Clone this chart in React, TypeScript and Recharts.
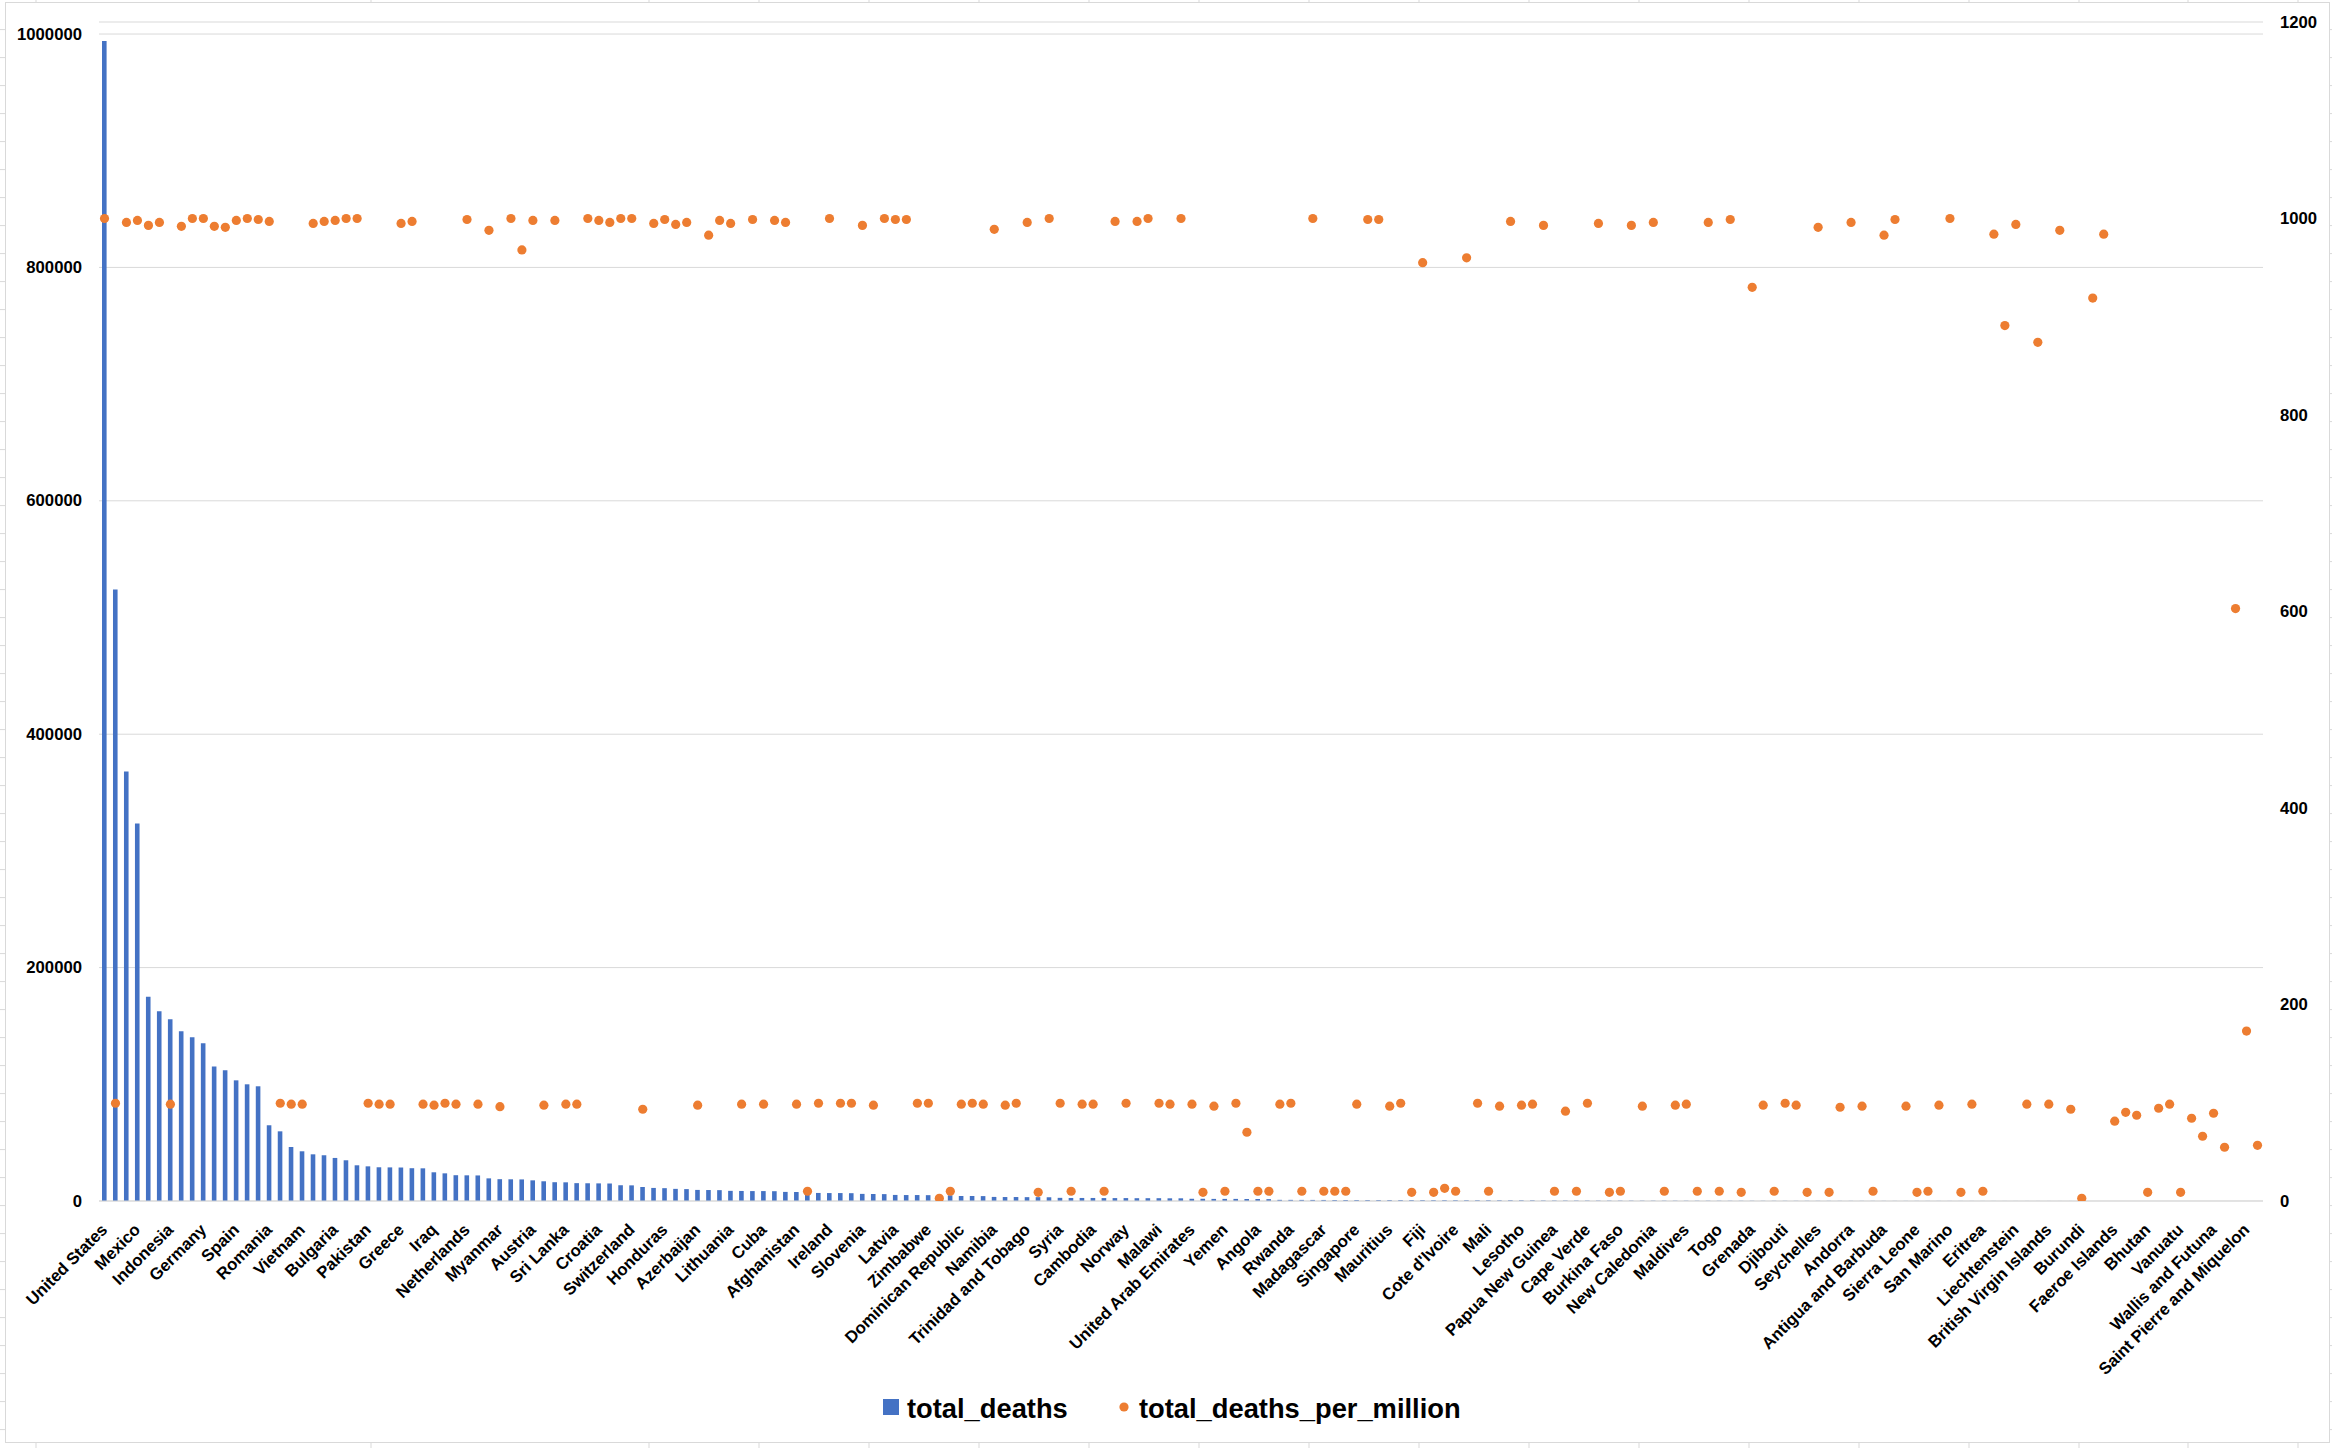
import React from 'react';
import { ComposedChart, Bar, Line, XAxis, YAxis, CartesianGrid } from 'recharts';

const countries: string[] = [
  'United States','India','Russia','Mexico','United Kingdom','Italy','Indonesia','France','Iran','Germany',
  'Poland','Ukraine','Spain','South Africa','Turkey','Romania','Philippines','Hungary','Vietnam','Czechia',
  'Canada','Bulgaria','Malaysia','Belgium','Pakistan','Thailand','Bangladesh','Greece','Japan','Tunisia',
  'Iraq','Egypt','South Korea','Netherlands','Portugal','Slovakia','Myanmar','Serbia','Sweden','Austria',
  'Nepal','Georgia','Sri Lanka','Morocco','Bosnia and Herzegovina','Croatia','Kazakhstan','Guatemala','Switzerland','Jordan',
  'Israel','Honduras','Moldova','Lebanon','Azerbaijan','Belarus','North Macedonia','Lithuania','Saudi Arabia','Ethiopia',
  'Cuba','Armenia','Kenya','Afghanistan','Costa Rica','Zambia','Ireland','Libya','Panama','Slovenia',
  'Algeria','El Salvador','Latvia','Denmark','Oman','Zimbabwe','Kyrgyzstan','Uganda','Dominican Republic','Palestine',
  'Sudan','Namibia','Nigeria','Mozambique','Trinidad and Tobago','Albania','Jamaica','Syria','Montenegro','Estonia',
  'Cambodia','Kosovo','Finland','Norway','Kuwait','Hong Kong','Malawi','Bahrain','Botswana','United Arab Emirates',
  'Mongolia','Senegal','Yemen','Cameroon','Australia','Angola','Ghana','Uzbekistan','Rwanda','Eswatini',
  'Haiti','Madagascar','Qatar','Cyprus','Singapore','Luxembourg','Democratic Republic of Congo','Mauritius','Somalia','Malta',
  'Fiji','Taiwan','Bahamas',"Cote d'Ivoire",'Belize','Barbados','Mali','Tajikistan','Mauritania','Lesotho',
  'Saint Lucia','Congo','Papua New Guinea','Guinea','Gabon','Cape Verde','Iceland','Niger','Burkina Faso','Chad',
  'Gambia','New Caledonia','Nicaragua','Equatorial Guinea','Maldives','Brunei','Liberia','Togo','South Sudan','Guinea-Bissau',
  'Grenada','Benin','Comoros','Djibouti','Central African Republic','Sao Tome and Principe','Seychelles','Saint Vincent and the Grenadines','Curacao','Andorra',
  'Aruba','Dominica','Antigua and Barbuda','New Zealand','Bermuda','Sierra Leone','Saint Kitts and Nevis','Tanzania','San Marino','Gibraltar',
  'Cayman Islands','Eritrea','Monaco','Isle of Man','Liechtenstein','Timor','Jersey','British Virgin Islands','Guernsey','Sint Maarten (Dutch part)',
  'Burundi','Turks and Caicos Islands','Greenland','Faeroe Islands','Solomon Islands','Kiribati','Bhutan','Samoa','Anguilla','Vanuatu',
  'Tonga','Montserrat','Wallis and Futuna','Falkland Islands','Saint Helena','Saint Pierre and Miquelon','Vatican',
];

const totalDeaths: number[] = [
  994000, 524000, 368000, 323500, 175000, 162500, 155700, 145400, 140300, 135100,
  115200, 112000, 103400, 100000, 98300, 64900, 59700, 46300, 42600, 40000,
  39200, 36900, 34900, 30600, 29700, 28900, 28800, 28700, 28100, 28000,
  24600, 23700, 22100, 22000, 21900, 19400, 18700, 18600, 18500, 17700,
  16900, 16100, 16000, 15300, 15200, 15100, 15000, 13500, 13400, 12000,
  11200, 11000, 10400, 10200, 9500, 9400, 9300, 8700, 8600, 8500,
  8500, 8400, 7800, 7700, 6900, 6900, 6800, 6800, 6700, 6100,
  6000, 5900, 5200, 5100, 5100, 5000, 5000, 4900, 4300, 4300,
  4200, 3500, 3400, 3400, 3300, 3300, 3200, 2700, 2600, 2600,
  2600, 2500, 2500, 2500, 2400, 2400, 2400, 2300, 2300, 1900,
  1900, 1800, 1800, 1800, 1700, 1700, 1600, 1000, 980, 950,
  930, 900, 880, 850, 830, 800, 790, 770, 750, 740,
  720, 700, 690, 670, 650, 640, 620, 600, 590, 570,
  550, 400, 380, 370, 350, 340, 320, 300, 290, 280,
  270, 260, 250, 240, 230, 220, 210, 200, 190, 180,
  170, 160, 155, 150, 140, 130, 125, 120, 115, 110,
  105, 100, 95, 90, 85, 80, 75, 70, 65, 60,
  55, 50, 48, 45, 42, 40, 37, 35, 32, 30,
  28, 25, 22, 20, 18, 16, 14, 12, 10, 9,
  8, 7, 6, 5, 4, 3, 2,
];

const deathsPerMillion: number[] = [
  1000, 99.5, 996, 998, 993, 996, 98.5, 992, 1000, 1000,
  992, 991, 998, 1000, 999, 997, 99.5, 98.5, 98.5, 995,
  997, 998, 1000, 1000, 99.5, 98.5, 98.5, 995, 997, 98.5,
  97.5, 99.5, 98.5, 999, 98.5, 988, 96, 1000, 968, 998,
  97.5, 998, 98.5, 98.5, 1000, 998, 996, 1000, 1000, 93.4,
  995, 999, 994, 996, 97.5, 983, 998, 995, 98.5, 999,
  98.5, 998, 996, 98.5, 9.9, 99.5, 1000, 99.5, 99.5, 993,
  97.5, 1000, 999, 999, 99.5, 99.5, 2.7, 9.9, 98.5, 99.5,
  98.5, 989, 97.5, 99.5, 996, 8.8, 1000, 99.5, 9.9, 98.5,
  98.5, 9.9, 997, 99.5, 997, 1000, 99.5, 98.5, 1000, 98.5,
  8.8, 96.5, 9.9, 99.5, 70, 9.9, 9.9, 98.5, 99.5, 9.9,
  1000, 9.9, 9.9, 9.9, 98.5, 999, 999, 96.5, 99.5, 8.8,
  955, 8.8, 12.9, 9.9, 960, 99.5, 9.9, 96.5, 997, 97.5,
  98.5, 993, 9.9, 91.4, 9.9, 99.5, 995, 8.8, 9.9, 993,
  96.5, 996, 9.9, 97.5, 98.5, 9.9, 996, 9.9, 999, 8.8,
  930, 97.5, 9.9, 99.5, 97.5, 8.8, 991, 8.8, 95.4, 996,
  96.5, 9.9, 983, 999, 96.5, 8.8, 9.9, 97.5, 1000, 8.8,
  98.5, 9.9, 984, 891, 994, 98.5, 874, 98.5, 988, 93.4,
  2.7, 919, 984, 81.2, 90.3, 87.3, 8.8, 94.4, 98.5, 8.8,
  84.2, 65.9, 89.3, 54.7, 603, 173, 56.7,
];

const leftTicks = [0, 200000, 400000, 600000, 800000, 1000000];
const rightTicks = [0, 200, 400, 600, 800, 1000, 1200];
const seriesNames = ['total_deaths', 'total_deaths_per_million'];

const data = countries.map((name, i) => ({
  name,
  total_deaths: totalDeaths[i],
  total_deaths_per_million: deathsPerMillion[i],
}));

const FONT = '"Liberation Sans", Arial, sans-serif';
const BLUE = '#4472C4';
const ORANGE = '#ED7D31';
const GRID = '#D9D9D9';

const LeftTick = (props: any) => {
  const { y, payload } = props;
  return (
    <text x={82} y={y} textAnchor="end" dominantBaseline="central" fontFamily={FONT} fontWeight={700} fontSize={16.7} fill="#000">
      {payload.value}
    </text>
  );
};

const RightTick = (props: any) => {
  const { y, payload } = props;
  return (
    <text x={2280} y={y} textAnchor="start" dominantBaseline="central" fontFamily={FONT} fontWeight={700} fontSize={16.7} fill="#000">
      {payload.value}
    </text>
  );
};

const CatTick = (props: any) => {
  const { x, payload } = props;
  return (
    <text
      transform={`translate(${x},${1227}) rotate(-45)`}
      textAnchor="end"
      dominantBaseline="central"
      fontFamily={FONT}
      fontWeight={700}
      fontSize={16.7}
      fill="#000"
    >
      {payload.value}
    </text>
  );
};

const leftMarks: number[] = [];
for (let k = 0; k < 52; k++) leftMarks.push(29.6 + 28 * k);
const bottomMarks = [36, 371, 649, 759, 869, 979, 1089, 1199, 1309, 1419, 1529, 1639, 1749, 1859, 1969, 2079, 2188, 2298];

export default function App() {
  return (
    <div style={{ position: 'absolute', left: 0, top: 0, width: 2332, height: 1448, background: '#fff', overflow: 'hidden' }}>
      <ComposedChart width={2332} height={1448} data={data} margin={{ top: 22, right: 0, bottom: 0, left: 0 }}>
        <CartesianGrid vertical={false} yAxisId="left" stroke={GRID} strokeWidth={1} />
        <XAxis
          dataKey="name"
          interval={2}
          height={247}
          tickLine={false}
          axisLine={{ stroke: GRID, strokeWidth: 1 }}
          tick={<CatTick />}
        />
        <YAxis
          yAxisId="left"
          width={99}
          domain={[0, 1010300]}
          ticks={leftTicks}
          axisLine={false}
          tickLine={false}
          tick={<LeftTick />}
          allowDataOverflow
        />
        <YAxis
          yAxisId="right"
          orientation="right"
          width={69}
          domain={[0, 1200]}
          ticks={rightTicks}
          axisLine={false}
          tickLine={false}
          tick={<RightTick />}
          allowDataOverflow
        />
        <Bar yAxisId="left" dataKey="total_deaths" fill={BLUE} barSize={4.6} isAnimationActive={false} />
        <Line
          yAxisId="right"
          dataKey="total_deaths_per_million"
          stroke="none"
          dot={{ r: 4.6, fill: ORANGE, stroke: 'none', strokeWidth: 0 }}
          activeDot={false}
          isAnimationActive={false}
        />
      </ComposedChart>
      <svg width={2332} height={1448} style={{ position: 'absolute', left: 0, top: 0, pointerEvents: 'none' }}>
        <rect x={5.5} y={2.5} width={2324} height={1440} fill="none" stroke={GRID} strokeWidth={1} />
        {leftMarks.map((y, i) => (
          <g key={i}>
            <line x1={0} x2={5} y1={y} y2={y} stroke={GRID} />
            <line x1={2330} x2={2332} y1={y} y2={y} stroke={GRID} />
          </g>
        ))}
        {bottomMarks.map((x, i) => (
          <g key={i}>
            <line x1={x} x2={x} y1={1443} y2={1448} stroke={GRID} />
            <line x1={x} x2={x} y1={0} y2={2} stroke={GRID} />
          </g>
        ))}
        <rect x={883} y={1399} width={16} height={16} fill={BLUE} />
        <text x={907} y={1408} dominantBaseline="central" fontFamily={FONT} fontWeight={700} fontSize={27.3} fill="#000">
          {seriesNames[0]}
        </text>
        <circle cx={1124} cy={1407} r={4.6} fill={ORANGE} />
        <text x={1139} y={1408} dominantBaseline="central" fontFamily={FONT} fontWeight={700} fontSize={27.3} fill="#000">
          {seriesNames[1]}
        </text>
      </svg>
    </div>
  );
}
